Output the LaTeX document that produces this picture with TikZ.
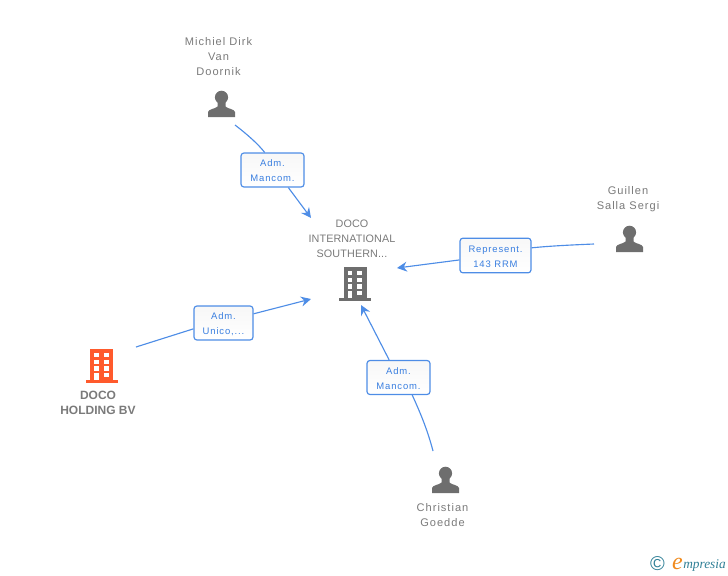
\documentclass[tikz,border=0pt]{standalone}
\usepackage{fontspec}
\setmainfont{Liberation Sans}
\newfontfamily\spaced[LetterSpace=9]{Liberation Sans}
\newfontfamily\capsp[LetterSpace=1]{Liberation Sans}
\newfontfamily\logofont{Liberation Serif}
\usetikzlibrary{arrows.meta,shadings}
\definecolor{txtgray}{HTML}{7A7A7A}
\definecolor{icongray}{HTML}{6E6E6E}
\definecolor{iconorange}{HTML}{FF5A2C}
\definecolor{linkblue}{HTML}{4E8DE6}
\definecolor{labelblue}{HTML}{3A7FE0}
\definecolor{logoteal}{HTML}{2F7F96}
\definecolor{logoorange}{HTML}{F08A1D}
\newcommand{\toppad}{\rule{0pt}{6.3pt}}
\newcommand{\personicon}[3]{%
  \node[icobox,minimum width=20.25pt,minimum height=20.25pt] (#1) at (#2+13.5,#3+13.5) {};
  \fill[icongray] (#2+13.5,#3+7.3) circle[radius=6.6];
  \fill[icongray] (#2,#3+27) -- (#2,#3+22) .. controls (#2+0.5,#3+19) and (#2+7,#3+19) .. (#2+9.5,#3+16.5)
     -- (#2+9.5,#3+12) -- (#2+17.5,#3+12) -- (#2+17.5,#3+16.5) .. controls (#2+20,#3+19) and (#2+26.5,#3+19) .. (#2+27,#3+22) -- (#2+27,#3+27) -- cycle;
}
\newcommand{\buildicon}[4]{%
  \node[icobox,minimum width=17.25pt,minimum height=25pt] (#1) at (#3+11.5,#4+16) {};
  \fill[#2] (#3,#4) rectangle (#3+23,#4+31);
  \fill[#2] (#3-4.5,#4+31) rectangle (#3+27.5,#4+34);
  \foreach \wy in {3.7,10.7,17.3}{
    \fill[white] (#3+4,#4+\wy) rectangle ++(4.7,4.6);
    \fill[white] (#3+13.7,#4+\wy) rectangle ++(4.9,4.6);
  }
  \fill[white] (#3+4,#4+23.7) rectangle (#3+8.7,#4+31);
  \fill[white] (#3+13.7,#4+23.7) rectangle ++(4.9,4.6);
}
\tikzset{
  icobox/.style={inner sep=0pt,outer sep=0pt},
  nametext/.style={font=\fontsize{8.3}{11.25}\selectfont\spaced,text=txtgray,align=center,inner sep=0pt},
  captext/.style={font=\fontsize{8.1}{11.25}\selectfont\capsp,text=txtgray,align=center,inner sep=0pt},
  boldname/.style={font=\fontsize{9}{11.25}\selectfont\bfseries,text=txtgray,align=center,inner sep=0pt},
  relbox/.style={draw=linkblue,line width=0.9pt,rounded corners=2.2pt,top color=white!97!black,bottom color=white,
     font=\fontsize{7.1}{11.25}\selectfont\spaced,text=labelblue,align=center,inner sep=0pt},
  link/.style={draw=linkblue,line width=0.85pt},
  arrowlink/.style={link,-{Stealth[length=7.5pt,width=7.5pt,inset=2.5pt]}}
}
\begin{document}
\begin{tikzpicture}[x=0.75pt,y=-0.75pt]
\useasboundingbox (0,0) rectangle (728,575);
% icons
\personicon{michiel}{208}{90}
\personicon{guillen}{616}{225}
\personicon{christian}{432}{466}
\buildicon{doco}{icongray}{343.7}{267}
\buildicon{holding}{iconorange}{90}{349}
% names
\node[nametext] (nmichiel) at (218.5,56.6) {Michiel Dirk\\Van\\Doornik};
\node[nametext] (nguillen) at (628,199.3) {Guillen\\Salla Sergi};
\node[nametext] (nchristian) at (442.5,515) {Christian\\Goedde};
\node[captext] (ndoco) at (352,239) {DOCO\\INTERNATIONAL\\SOUTHERN...};
\node[boldname] (nholding) at (98,402.5) {DOCO\\HOLDING BV};
% relation boxes
\node[relbox,minimum width=47.25pt,minimum height=25.5pt] (b1) at (272.5,170) {\toppad Adm.\\Mancom.};
\node[relbox,minimum width=44.25pt,minimum height=25.5pt] (b2) at (223.5,323) {\toppad Adm.\\Unico,...};
\node[relbox,minimum width=53.25pt,minimum height=26pt] (b3) at (495.5,255.5) {\toppad Represent.\\143 RRM};
\node[relbox,minimum width=47.25pt,minimum height=25.5pt] (b4) at (398.5,377.5) {\toppad Adm.\\Mancom.};
% free ends
\coordinate (s1) at (235,125);
\coordinate (t1) at (311,218);
\coordinate (s2) at (136,347);
\coordinate (t2) at (311,299);
\coordinate (s3) at (594,244);
\coordinate (t3) at (397,268);
\coordinate (s4) at (433,451);
\coordinate (t4) at (361,305);
% connectors
\draw[link] (s1) .. controls (248,135) and (258,144) .. (b1.114);
\draw[arrowlink] (b1.-48) -- (t1);
\draw[link] (s2) -- (b2.191);
\draw[arrowlink] (b2.17) -- (t2);
\draw[link] (s3) .. controls (570,245) and (550,246) .. (b3.12);
\draw[arrowlink] (b3.187) -- (t3);
\draw[link] (s4) .. controls (427,428) and (419,410) .. (b4.-52);
\draw[arrowlink] (b4.118.5) -- (t4);
% logo
\node[font=\fontsize{15}{15}\selectfont,text=logoteal,inner sep=0pt] (copyr) at (657.5,564) {\textcopyright};
\node[font=\logofont\itshape\fontsize{18}{18}\selectfont,text=logoorange,inner sep=0pt] (logoe) at (677.5,563.5) {e};
\node[font=\logofont\itshape\fontsize{10}{10}\selectfont,text=logoteal,inner sep=0pt,anchor=base west] (logot) at (683,568) {mpresia};
\end{tikzpicture}
\end{document}
